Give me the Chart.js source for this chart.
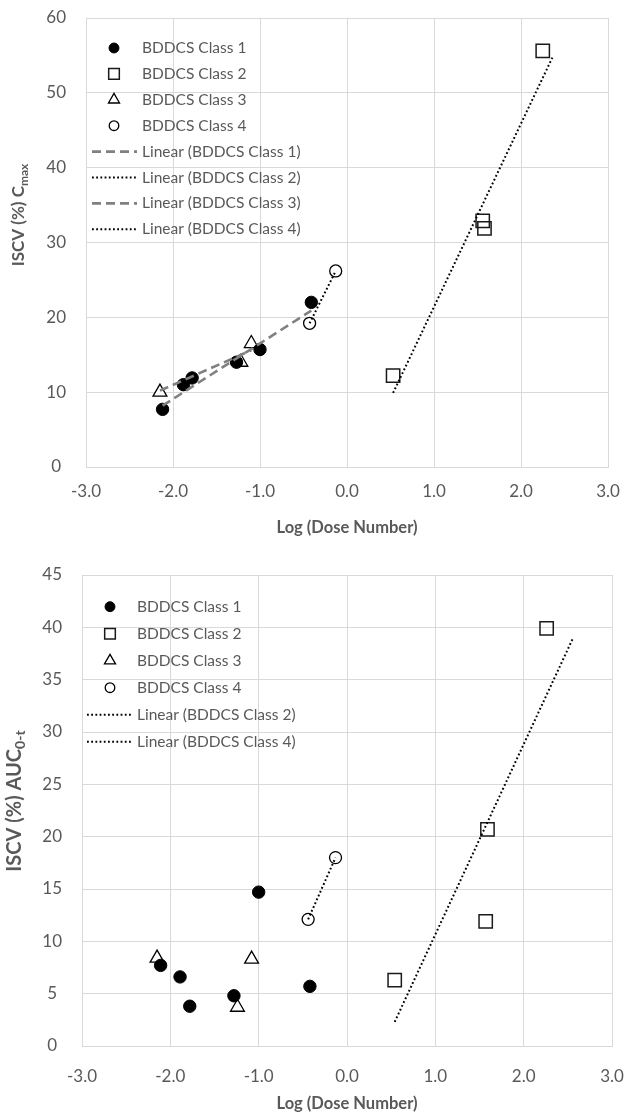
<!DOCTYPE html>
<html>
<head>
<meta charset="utf-8">
<title>ISCV vs Log (Dose Number)</title>
<script src="https://cdn.jsdelivr.net/npm/chart.js@4.4.1/dist/chart.umd.min.js"></script>
<style>
  html, body { margin: 0; padding: 0; background: #fff; }
  .panel { position: relative; width: 624px; }
  #cmaxPanel { height: 555px; }
  #aucPanel { height: 559px; }
</style>
</head>
<body>
<div class="panel" id="cmaxPanel"><canvas id="cmaxChart"></canvas></div>
<div class="panel" id="aucPanel"><canvas id="aucChart"></canvas></div>
<script>
// ---- Cmax panel: log(dose number) vs ISCV (%) ----
const cmaxClass1X = [-2.12, -1.88, -1.78, -1.27, -1.0, -0.41]
const cmaxClass1Y = [7.7, 11.0, 11.9, 14.0, 15.7, 22.0]
const cmaxClass2X = [0.53, 1.56, 1.58, 2.25]
const cmaxClass2Y = [12.2, 32.9, 31.9, 55.6]
const cmaxClass3X = [-2.15, -1.1, -1.22]
const cmaxClass3Y = [10.0, 16.5, 14.0]
const cmaxClass4X = [-0.43, -0.13]
const cmaxClass4Y = [19.2, 26.2]

// trendline end points
const cmaxTrend1X = [-2.12, -0.41]
const cmaxTrend1Y = [8.2, 20.9]
const cmaxTrend2X = [0.53, 2.36]
const cmaxTrend2Y = [9.9, 54.7]
const cmaxTrend3X = [-2.15, -1.1]
const cmaxTrend3Y = [10.2, 15.6]
const cmaxTrend4X = [-0.43, -0.13]
const cmaxTrend4Y = [19.2, 26.2]

// ---- AUC panel ----
const aucClass1X = [-2.11, -1.89, -1.78, -1.28, -1.0, -0.42]
const aucClass1Y = [7.7, 6.6, 3.8, 4.8, 14.7, 5.7]
const aucClass2X = [0.54, 1.59, 1.57, 2.26]
const aucClass2Y = [6.3, 20.7, 11.9, 39.9]
const aucClass3X = [-2.15, -1.08, -1.24]
const aucClass3Y = [8.4, 8.3, 3.7]
const aucClass4X = [-0.44, -0.13]
const aucClass4Y = [12.1, 18.0]

const aucTrend2X = [0.54, 2.56]
const aucTrend2Y = [2.3, 39.0]
const aucTrend4X = [-0.44, -0.13]
const aucTrend4Y = [12.1, 18.0]

// axis ticks
const xTicks = [-3, -2, -1, 0, 1, 2, 3]
const cmaxYTicks = [0, 10, 20, 30, 40, 50, 60]
const aucYTicks = [0, 5, 10, 15, 20, 25, 30, 35, 40, 45]

const classNames = ['BDDCS Class 1', 'BDDCS Class 2', 'BDDCS Class 3', 'BDDCS Class 4']

const FONT = 'Lato, "Open Sans", sans-serif'
const TEXT = '#595959'
const GRID = '#d9d9d9'

function pts(xs, ys) {
	return xs.map((x, i) => ({ x: x, y: ys[i] }))
}

// marker look for each class
const markerStyles = [
	{ pointStyle: 'circle', pointRadius: 6.2, backgroundColor: '#000', borderColor: '#000', borderWidth: 1 },
	{ pointStyle: 'rect', pointRadius: 9.4, backgroundColor: 'rgba(255,255,255,0)', borderColor: '#1a1a1a', borderWidth: 1.5 },
	{ pointStyle: 'triangle', pointRadius: 8, backgroundColor: '#fff', borderColor: '#000', borderWidth: 1.3 },
	{ pointStyle: 'circle', pointRadius: 6, backgroundColor: 'rgba(255,255,255,0)', borderColor: '#000', borderWidth: 1.3 },
]

function markerSet(i, xs, ys) {
	return Object.assign({
		label: classNames[i],
		data: pts(xs, ys),
		showLine: false,
		order: 1,
	}, markerStyles[i])
}

function trendSet(i, xs, ys, dashed) {
	return {
		label: 'Linear (' + classNames[i] + ')',
		data: pts(xs, ys),
		showLine: true,
		pointRadius: 0,
		borderColor: dashed ? '#808080' : '#000',
		borderWidth: dashed ? 2.6 : 2,
		borderDash: dashed ? [9, 5] : [1.8, 2.4],
		order: 0,
	}
}

// legend drawn inside the plot area, top left
const insideLegend = {
	id: 'insideLegend',
	afterDraw(chart, args, opts) {
		const ctx = chart.ctx
		ctx.save()
		chart.data.datasets.forEach((ds, i) => {
			const y = opts.top + i * opts.rowGap
			if (ds.showLine) {
				ctx.strokeStyle = ds.borderColor
				ctx.lineWidth = ds.borderWidth
				ctx.setLineDash(ds.borderDash || [])
				ctx.beginPath()
				ctx.moveTo(opts.lineStart, y)
				ctx.lineTo(opts.lineEnd, y)
				ctx.stroke()
				ctx.setLineDash([])
			} else {
				ctx.fillStyle = ds.backgroundColor
				ctx.strokeStyle = ds.borderColor
				ctx.lineWidth = ds.borderWidth
				Chart.helpers.drawPoint(ctx, {
					pointStyle: ds.pointStyle,
					radius: ds.pointRadius * 0.8,
					borderWidth: ds.borderWidth,
					rotation: 0,
				}, opts.markerX, y)
			}
			ctx.font = opts.fontSize + 'px ' + FONT
			ctx.fillStyle = TEXT
			ctx.textAlign = 'left'
			ctx.textBaseline = 'middle'
			ctx.fillText(ds.label, opts.textX, y)
		})
		ctx.restore()
	},
}

// rotated y title with a subscript part
const yTitle = {
	id: 'yTitle',
	afterDraw(chart, args, opts) {
		const ctx = chart.ctx
		ctx.save()
		ctx.translate(opts.x, opts.y)
		ctx.rotate(-Math.PI / 2)
		ctx.fillStyle = TEXT
		ctx.textBaseline = 'middle'
		ctx.textAlign = 'left'
		const mainFont = 'bold ' + opts.size + 'px ' + FONT
		const subFont = 'bold ' + Math.round(opts.size * 0.68) + 'px ' + FONT
		ctx.font = mainFont
		const w1 = ctx.measureText(opts.main).width
		ctx.font = subFont
		const w2 = ctx.measureText(opts.sub).width
		const start = -(w1 + w2) / 2
		ctx.font = mainFont
		ctx.fillText(opts.main, start, 0)
		ctx.font = subFont
		ctx.fillText(opts.sub, start + w1, opts.size * 0.28)
		ctx.restore()
	},
}

function buildOptions(cfg) {
	return {
		responsive: true,
		maintainAspectRatio: false,
		animation: false,
		layout: { padding: { top: cfg.padTop, right: cfg.padRight, left: 0, bottom: 0 } },
		scales: {
			x: {
				type: 'linear',
				min: xTicks[0],
				max: xTicks[xTicks.length - 1],
				afterBuildTicks: axis => { axis.ticks = xTicks.map(v => ({ value: v })) },
				afterFit: axis => {
					axis.height = cfg.xAxisHeight
					axis.paddingLeft = 0
					axis.paddingRight = 0
				},
				grid: { color: GRID, lineWidth: 1, drawTicks: false },
				border: { color: GRID, width: 1 },
				ticks: {
					padding: cfg.xTickPad,
					color: TEXT,
					font: { family: FONT, size: 17 },
					callback: v => v.toFixed(1),
				},
				title: {
					display: true,
					text: 'Log (Dose Number)',
					color: TEXT,
					font: { family: FONT, size: 16.5, weight: 'bold' },
					padding: { top: 0, bottom: cfg.titlePad },
				},
			},
			y: {
				type: 'linear',
				min: cfg.yTicks[0],
				max: cfg.yTicks[cfg.yTicks.length - 1],
				afterBuildTicks: axis => { axis.ticks = cfg.yTicks.map(v => ({ value: v })) },
				afterFit: axis => {
					axis.width = cfg.yAxisWidth
					axis.paddingTop = 0
					axis.paddingBottom = 0
				},
				grid: { color: GRID, lineWidth: 1, drawTicks: false },
				border: { color: GRID, width: 1 },
				ticks: {
					padding: 20,
					crossAlign: 'center',
					color: TEXT,
					font: { family: FONT, size: 17 },
				},
			},
		},
		plugins: {
			legend: { display: false },
			tooltip: { enabled: false },
			insideLegend: cfg.legend,
			yTitle: cfg.yTitle,
		},
	}
}

new Chart(document.getElementById('cmaxChart'), {
	type: 'scatter',
	data: {
		datasets: [
			markerSet(0, cmaxClass1X, cmaxClass1Y),
			markerSet(1, cmaxClass2X, cmaxClass2Y),
			markerSet(2, cmaxClass3X, cmaxClass3Y),
			markerSet(3, cmaxClass4X, cmaxClass4Y),
			trendSet(0, cmaxTrend1X, cmaxTrend1Y, true),
			trendSet(1, cmaxTrend2X, cmaxTrend2Y, false),
			trendSet(2, cmaxTrend3X, cmaxTrend3Y, true),
			trendSet(3, cmaxTrend4X, cmaxTrend4Y, false),
		],
	},
	options: buildOptions({
		padTop: 18, padRight: 16, xAxisHeight: 88, yAxisWidth: 86, xTickPad: 14, titlePad: 17,
		yTicks: cmaxYTicks,
		legend: { top: 48, rowGap: 25.9, markerX: 114, textX: 142, lineStart: 92, lineEnd: 137, fontSize: 15.5 },
		yTitle: { x: 19, y: 215, size: 17, main: 'ISCV (%) C', sub: 'max' },
	}),
	plugins: [insideLegend, yTitle],
})

new Chart(document.getElementById('aucChart'), {
	type: 'scatter',
	data: {
		datasets: [
			markerSet(0, aucClass1X, aucClass1Y),
			markerSet(1, aucClass2X, aucClass2Y),
			markerSet(2, aucClass3X, aucClass3Y),
			markerSet(3, aucClass4X, aucClass4Y),
			trendSet(1, aucTrend2X, aucTrend2Y, false),
			trendSet(3, aucTrend4X, aucTrend4Y, false),
		],
	},
	options: buildOptions({
		padTop: 20, padRight: 12, xAxisHeight: 68, yAxisWidth: 82, xTickPad: 20, titlePad: 0,
		yTicks: aucYTicks,
		legend: { top: 51.7, rowGap: 27, markerX: 110, textX: 137, lineStart: 87, lineEnd: 132, fontSize: 15.5 },
		yTitle: { x: 15, y: 246, size: 20, main: 'ISCV (%) AUC', sub: '0-t' },
	}),
	plugins: [insideLegend, yTitle],
})
</script>
</body>
</html>
